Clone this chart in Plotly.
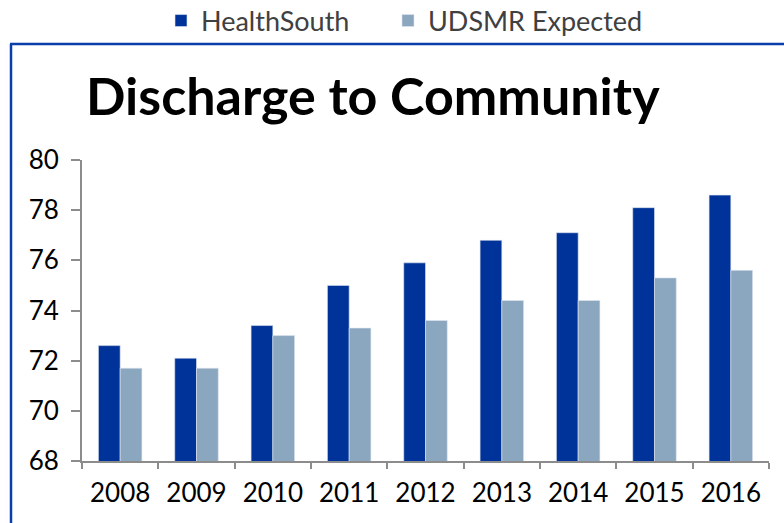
import plotly.graph_objects as go

years = ["2008", "2009", "2010", "2011", "2012", "2013", "2014", "2015", "2016"]
healthsouth = [72.6, 72.1, 73.4, 75.0, 75.9, 76.8, 77.1, 78.1, 78.6]
udsmr_expected = [71.7, 71.7, 73.0, 73.3, 73.6, 74.4, 74.4, 75.3, 75.6]
series_names = ["HealthSouth", "UDSMR Expected"]
y_ticks = [68, 70, 72, 74, 76, 78, 80]

W, H = 784, 523
L, R, T, B = 82, 784 - 769, 160, 523 - 461
pw, ph = W - L - R, H - T - B

def px_x(x):
    return (x - L) / pw

def px_y(y):
    return (H - B - y) / ph

font_family = "Lato, 'Open Sans', sans-serif"

fig = go.Figure()
fig.add_trace(go.Bar(x=years, y=healthsouth, name=series_names[0], legend="legend",
                     marker=dict(color="#003399", line=dict(color="#dfe6f0", width=0.6))))
fig.add_trace(go.Bar(x=years, y=udsmr_expected, name=series_names[1], legend="legend2",
                     marker=dict(color="#8ba6bf", line=dict(color="#dfe6f0", width=0.6))))

border = "#0a3ea8"
fig.add_shape(type="line", xref="paper", yref="paper",
              x0=px_x(11), x1=px_x(11), y0=px_y(44), y1=px_y(530),
              line=dict(color=border, width=2.5))
fig.add_shape(type="line", xref="paper", yref="paper",
              x0=px_x(10), x1=px_x(790), y0=px_y(44), y1=px_y(44),
              line=dict(color=border, width=2.5))

legend_common = dict(orientation="h", xref="container", yref="container",
                     xanchor="left", y=1 - 21 / H, yanchor="middle",
                     bgcolor="rgba(0,0,0,0)",
                     font=dict(family=font_family, size=27, color="#404040"))

fig.update_layout(
    width=W, height=H,
    margin=dict(l=L, r=R, t=T, b=B),
    paper_bgcolor="white", plot_bgcolor="white",
    barmode="group", bargap=0.43, bargroupgap=0,
    font=dict(family=font_family, color="#000000"),
    title=dict(text="<b>Discharge to Community</b>", xref="container", yref="container",
               x=86 / W, xanchor="left", y=1 - 97 / H, yanchor="middle",
               font=dict(family=font_family, size=52, color="#000000")),
    legend=dict(x=161 / W, **legend_common),
    legend2=dict(x=388 / W, **legend_common),
    showlegend=True,
)
fig.update_xaxes(type="category", showline=True, linecolor="#8c8c8c", linewidth=2,
                 ticks="outside", tickson="boundaries", ticklen=6, tickwidth=2,
                 tickcolor="#8c8c8c", showgrid=False,
                 tickfont=dict(family=font_family, size=26, color="#000000"),
                 ticklabelstandoff=8)
fig.update_yaxes(range=[68, 80], tickvals=y_ticks, showline=True, linecolor="#8c8c8c",
                 linewidth=2, ticks="outside", ticklen=9, tickwidth=2, tickcolor="#8c8c8c",
                 showgrid=False, zeroline=False,
                 tickfont=dict(family=font_family, size=26, color="#000000"),
                 ticklabelstandoff=7)

fig.write_html("out.html")
